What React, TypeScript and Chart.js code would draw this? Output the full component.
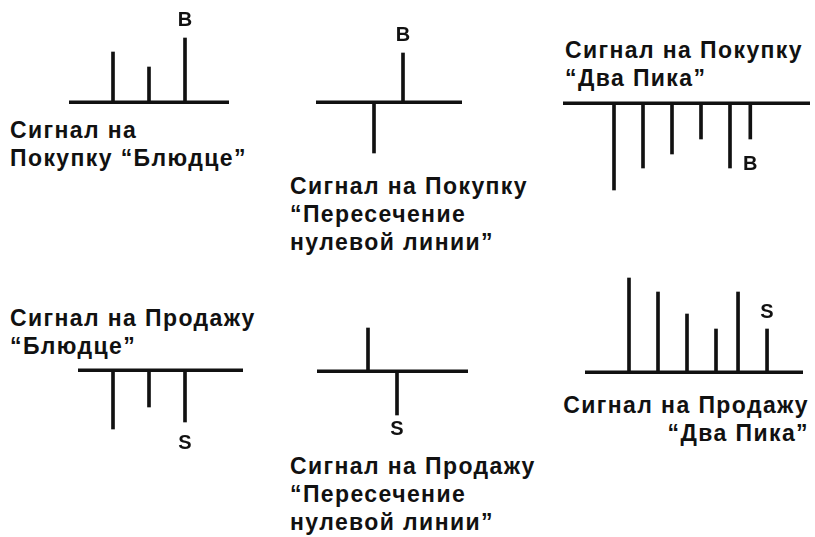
import React, { useEffect, useRef } from 'react';
import { Chart, registerables } from 'chart.js';

Chart.register(...registerables);

// ---- Data (bar heights of the oscillator histograms) ----
const buySaucerValues = [50, 35, 64];
const buySaucerPositions = [0, 1, 2];

const buyCrossValues = [-51, 49];
const buyCrossPositions = [0, 1];

const buyTwoPeaksValues = [-87, -65, -51, -36, -65, -36];
const buyTwoPeaksPositions = [0, 1, 2, 3, 4, 4.7];

const sellSaucerValues = [-59, -37, -52];
const sellSaucerPositions = [0, 1, 2];

const sellCrossValues = [43, -44];
const sellCrossPositions = [0, 1];

const sellTwoPeaksValues = [94, 80, 58, 43, 80, 43];
const sellTwoPeaksPositions = [0, 1, 2, 3, 3.76, 4.76];

// ---- Text ----
const buySaucerTitle = ['Сигнал на', 'Покупку “Блюдце”'];
const buyCrossTitle = ['Сигнал на Покупку', '“Пересечение', 'нулевой линии”'];
const buyTwoPeaksTitle = ['Сигнал на Покупку', '“Два Пика”'];
const sellSaucerTitle = ['Сигнал на Продажу', '“Блюдце”'];
const sellCrossTitle = ['Сигнал на Продажу', '“Пересечение', 'нулевой линии”'];
const sellTwoPeaksTitle = ['Сигнал на Продажу', '“Два Пика”'];

const BUY = 'B';
const SELL = 'S';

const FONT = '"Liberation Sans", Arial, Helvetica, sans-serif';
const INK = '#111';

type Panel = {
  values: number[];
  positions: number[];
  signal: string;
  labelSide: 'above' | 'below';
  labelGap: number;
  // layout (pixels)
  axisLeft: number;
  axisRight: number;
  firstBarPx: number;
  unitPx: number;
  baseline: number;
  above: number;
  below: number;
};

const panels: Panel[] = [
  { values: buySaucerValues, positions: buySaucerPositions, signal: BUY, labelSide: 'above', labelGap: 18,
    axisLeft: 69, axisRight: 229, firstBarPx: 113, unitPx: 36, baseline: 102, above: 92, below: 6 },
  { values: buyCrossValues, positions: buyCrossPositions, signal: BUY, labelSide: 'above', labelGap: 18,
    axisLeft: 316, axisRight: 462, firstBarPx: 374, unitPx: 29, baseline: 102, above: 82, below: 60 },
  { values: buyTwoPeaksValues, positions: buyTwoPeaksPositions, signal: BUY, labelSide: 'below', labelGap: 25,
    axisLeft: 563, axisRight: 810, firstBarPx: 614, unitPx: 29, baseline: 103, above: 6, below: 100 },
  { values: sellSaucerValues, positions: sellSaucerPositions, signal: SELL, labelSide: 'below', labelGap: 21,
    axisLeft: 78, axisRight: 243, firstBarPx: 113, unitPx: 36, baseline: 370, above: 6, below: 90 },
  { values: sellCrossValues, positions: sellCrossPositions, signal: SELL, labelSide: 'below', labelGap: 14,
    axisLeft: 317, axisRight: 468, firstBarPx: 368, unitPx: 29, baseline: 371, above: 50, below: 72 },
  { values: sellTwoPeaksValues, positions: sellTwoPeaksPositions, signal: SELL, labelSide: 'above', labelGap: 17,
    axisLeft: 585, axisRight: 803, firstBarPx: 629, unitPx: 29, baseline: 372, above: 108, below: 6 },
];

const titles: { lines: string[]; left?: number; right?: number; firstCenter: number }[] = [
  { lines: buySaucerTitle, left: 10, firstCenter: 130 },
  { lines: buyCrossTitle, left: 290, firstCenter: 186 },
  { lines: buyTwoPeaksTitle, left: 565, firstCenter: 50 },
  { lines: sellSaucerTitle, left: 10, firstCenter: 318 },
  { lines: sellCrossTitle, left: 290, firstCenter: 466 },
  { lines: sellTwoPeaksTitle, right: 6, firstCenter: 405 },
];

const LINE_H = 28;

function PanelChart({ p }: { p: Panel }) {
  const ref = useRef<HTMLCanvasElement | null>(null);
  const width = p.axisRight - p.axisLeft;
  const height = p.above + p.below;

  useEffect(() => {
    if (!ref.current) return;
    const xMin = (p.axisLeft - p.firstBarPx) / p.unitPx;
    const xMax = (p.axisRight - p.firstBarPx) / p.unitPx;
    const signalIndex = p.values.length - 1;

    const baselinePlugin = {
      id: 'baselineAndSignal',
      afterDatasetsDraw(chart: any) {
        const { ctx } = chart;
        const x = chart.scales.x;
        const y = chart.scales.y;
        const y0 = y.getPixelForValue(0);
        ctx.save();
        ctx.fillStyle = INK;
        ctx.fillRect(x.left, y0 - 1.5, x.right - x.left, 3.5);
        const el = chart.getDatasetMeta(0).data[signalIndex];
        if (el) {
          ctx.font = `bold 20px ${FONT}`;
          ctx.textAlign = 'center';
          ctx.textBaseline = 'middle';
          const ty = p.labelSide === 'above' ? el.y - p.labelGap : el.y + p.labelGap;
          ctx.fillText(p.signal, el.x, ty);
        }
        ctx.restore();
      },
    };

    const chart = new Chart(ref.current, {
      type: 'bar',
      data: {
        datasets: [
          {
            data: p.positions.map((pos, i) => ({ x: pos, y: p.values[i] })),
            backgroundColor: INK,
            borderWidth: 0,
            barThickness: 3,
          } as any,
        ],
      },
      options: {
        responsive: false,
        animation: false,
        devicePixelRatio: 1,
        layout: { padding: 0 },
        plugins: { legend: { display: false }, tooltip: { enabled: false }, title: { display: false } },
        scales: {
          x: { type: 'linear', min: xMin, max: xMax, offset: false, display: false, grid: { display: false } },
          y: { type: 'linear', min: -p.below, max: p.above, display: false, grid: { display: false } },
        },
      } as any,
      plugins: [baselinePlugin],
    });
    return () => chart.destroy();
  }, []);

  return (
    <canvas
      ref={ref}
      width={width}
      height={height}
      style={{ position: 'absolute', left: p.axisLeft, top: p.baseline - p.above, width, height }}
    />
  );
}

export default function App() {
  return (
    <div style={{ position: 'absolute', left: 0, top: 0, width: 815, height: 537, background: '#fff', overflow: 'hidden' }}>
      {panels.map((p, i) => (
        <PanelChart key={i} p={p} />
      ))}
      {titles.map((t, i) => (
        <div
          key={'t' + i}
          style={{
            position: 'absolute',
            top: t.firstCenter - LINE_H / 2,
            left: t.left,
            right: t.right,
            textAlign: t.right !== undefined ? 'right' : 'left',
            fontFamily: FONT,
            fontWeight: 'bold',
            fontSize: 23,
            letterSpacing: '1.4px',
            lineHeight: LINE_H + 'px',
            color: INK,
            whiteSpace: 'pre',
          }}
        >
          {t.lines.join('\n')}
        </div>
      ))}
    </div>
  );
}
